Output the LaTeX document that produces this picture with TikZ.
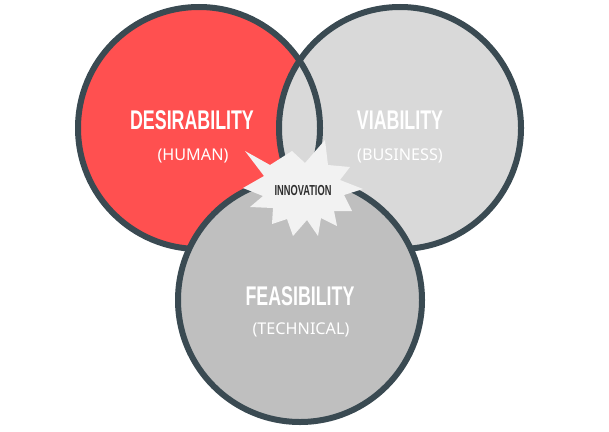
\documentclass[tikz,border=0pt]{standalone}
\usepackage{fontspec}
\newfontfamily\headfont[FakeStretch=0.66]{Liberation Sans}
\newfontfamily\innofont[FakeStretch=0.64]{Liberation Sans}
\newfontfamily\subfont{Noto Sans}
\definecolor{ring}{HTML}{3A4A52}
\definecolor{desred}{HTML}{FF5050}
\definecolor{vgray}{HTML}{D9D9D9}
\definecolor{fgray}{HTML}{BFBFBF}
\definecolor{starfill}{HTML}{F2F2F2}
\definecolor{inkdark}{HTML}{2E2E2E}
\tikzset{
  ringline/.style={draw=ring, line width=6pt},
  headtxt/.style={inner sep=0pt, text=white, font=\headfont\bfseries\fontsize{27}{30}\selectfont},
  subtxt/.style={inner sep=0pt, text=white, font=\subfont\fontsize{16.2}{19}\selectfont},
  innotxt/.style={inner sep=0pt, text=inkdark, font=\innofont\bfseries\fontsize{14.5}{16}\selectfont}
}
\begin{document}
\begin{tikzpicture}[x=1pt,y=-1pt]
\useasboundingbox (0,0) rectangle (609,431);
\coordinate (cD) at (199,128);
\coordinate (cV) at (400,128);
\coordinate (cF) at (300,300);
% top circles
\fill[desred] (cD) circle[radius=121];
\fill[vgray] (cV) circle[radius=121];
\path[ringline] (cD) circle[radius=121];
\path[ringline] (cV) circle[radius=121];
% bottom circle
\path[ringline, fill=fgray] (cF) circle[radius=122];
% star
\fill[starfill] (245,151) -- (270,165) -- (292,151) -- (305,163) -- (325,140)
  -- (328,165) -- (350,167) -- (340,180) -- (363,189) -- (344,195)
  -- (352,211) -- (334,211) -- (337,226) -- (321,218) -- (318,236)
  -- (307,220) -- (293,236) -- (287,219) -- (272,224) -- (273,208)
  -- (250,207) -- (263,196) -- (243,188) -- (264,176) -- cycle;
% labels
\node[headtxt] (des) at (192,120) {DESIRABILITY};
\node[subtxt] (hum) at (193,156) {(HUMAN)};
\node[headtxt] (via) at (400,120) {VIABILITY};
\node[subtxt] (bus) at (400,156) {(BUSINESS)};
\node[headtxt] (fea) at (300,296) {FEASIBILITY};
\node[subtxt] (tec) at (301,330) {(TECHNICAL)};
\node[innotxt] (inn) at (303,191) {INNOVATION};
\end{tikzpicture}
\end{document}
